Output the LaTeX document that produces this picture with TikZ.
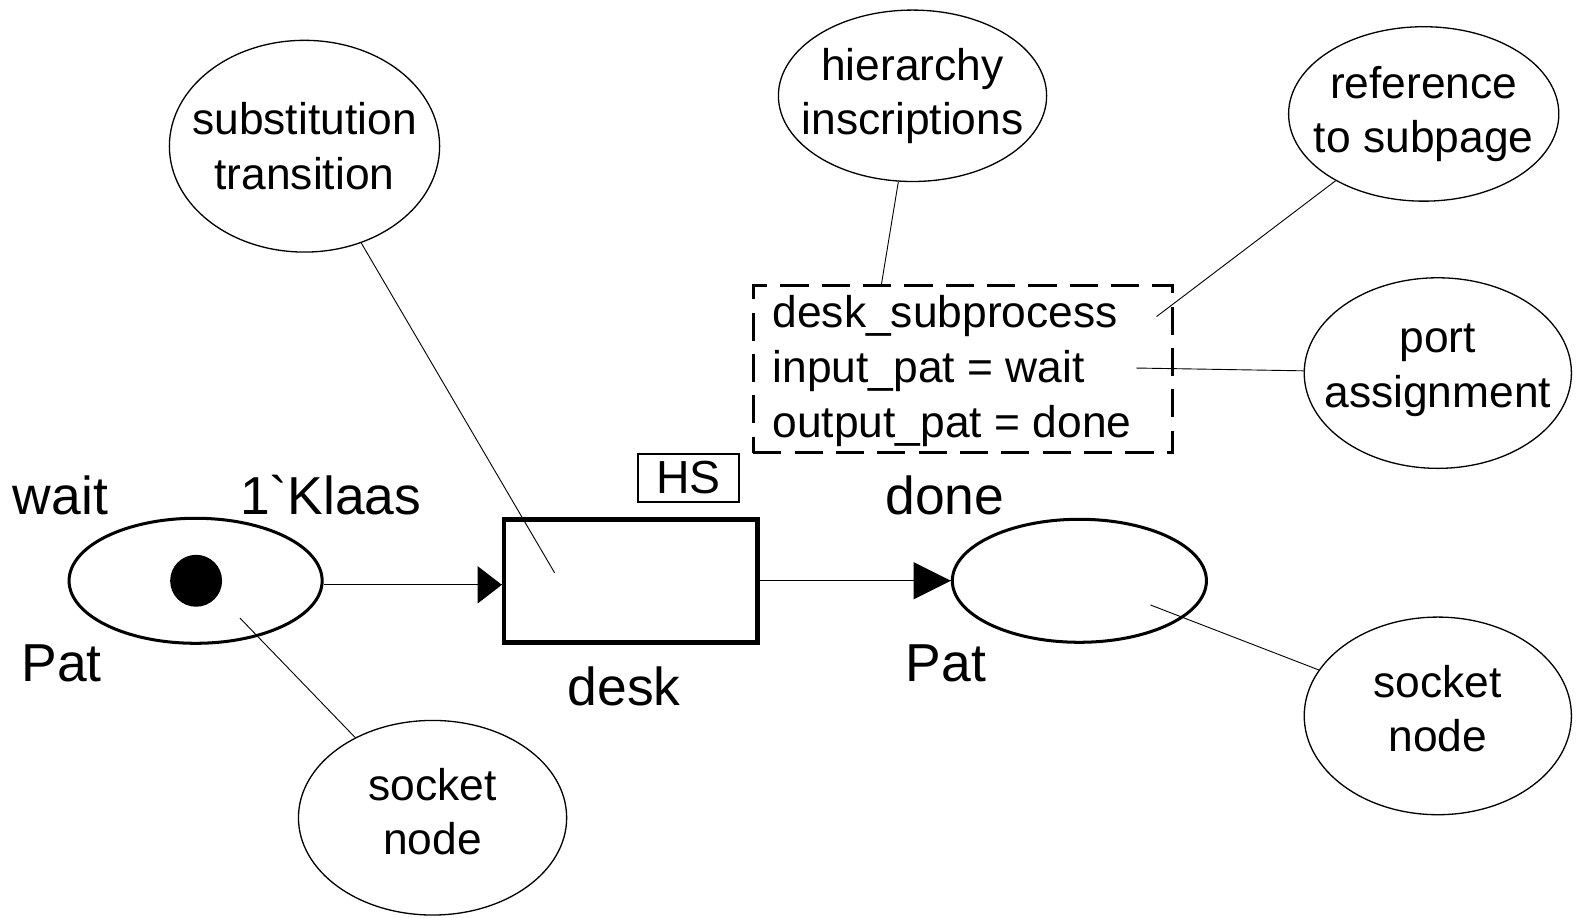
\documentclass[tikz,border=0pt]{standalone}
\usepackage{fontspec}
\setmainfont{Liberation Sans}
\usetikzlibrary{shapes.geometric}
\begin{document}
\begin{tikzpicture}[x=1pt,y=-1pt,
  place/.style={ellipse,draw,line width=3pt,inner sep=0pt,minimum width=251pt,minimum height=124pt},
  trans/.style={rectangle,draw,line width=4.5pt,inner sep=0pt,minimum width=251pt,minimum height=122pt},
  callout/.style={ellipse,draw,line width=1.3pt,inner sep=0pt},
  callouttext/.style={align=center,inner sep=0pt,font=\fontsize{44}{54}\selectfont},
  biglabel/.style={font=\fontsize{53}{60}\selectfont,inner sep=0pt,anchor=base},
  arcline/.style={line width=1.3pt},
  leader/.style={line width=0.9pt}
]
\useasboundingbox (0,0) rectangle (1568,910);

% places and the substitution transition
\node[place] (wait) at (194,576) {};
\node[circle,fill,inner sep=0pt,minimum size=51.5pt] (token) at (194.5,576) {};
\node[trans] (desk) at (625.5,576) {};
\node[place,minimum width=252pt,minimum height=122pt] (done) at (1070.5,576) {};

% arcs with filled triangular heads
\draw[arcline] ([yshift=-4pt]wait.east) -- ([yshift=-4pt]desk.west);
\fill ([yshift=-4pt]desk.west) -- ++(-24,-18.5) -- ++(0,37) -- cycle;
\draw[arcline] (desk) -- (done);
\fill (done.west) -- ++(-37,-18.5) -- ++(0,37) -- cycle;

% inscriptions of places and transition
\node[biglabel] (lwait) at (60,510) {wait};
\node[biglabel] (lpatl) at (61,676) {Pat};
\node[biglabel] (lmark) at (328,510) {1\textasciigrave Klaas};
\node[biglabel] (ldesk) at (619,700) {desk};
\node[biglabel] (ldone) at (937,510) {done};
\node[biglabel] (lpatr) at (938,676) {Pat};

% hierarchy tag
\node[draw,line width=2pt,inner sep=0pt,minimum width=100pt,minimum height=48pt,
  font=\fontsize{46}{50}\selectfont] (hs) at (683,474) {HS};

% hierarchy inscription box
\node[draw,line width=2.6pt,dash pattern=on 28pt off 13pt,inner sep=0pt,
  minimum width=416pt,minimum height=166pt] (hbox) at (955,366) {};
\node[anchor=west,align=left,inner sep=0pt,font=\fontsize{44}{54.5}\selectfont]
  (htext) at (766,368) {desk\_subprocess\\input\_pat = wait\\output\_pat = done};

% explanatory callouts
\node[callout,minimum width=268pt,minimum height=210pt] (csub) at (302,145) {};
\node[callouttext] (tsub) at (csub) {substitution\\transition};
\node[callout,minimum width=266pt,minimum height=170pt] (chier) at (905,95) {};
\node[callouttext] (thier) at (chier) {hierarchy\\inscriptions};
\node[callout,minimum width=268pt,minimum height=173pt] (cref) at (1412,113) {};
\node[callouttext] (tref) at (cref) {reference\\to subpage};
\node[callout,minimum width=265pt,minimum height=189pt] (cport) at (1426,370) {};
\node[callouttext] (tport) at (1426,367) {port\\assignment};
\node[callout,minimum width=266pt,minimum height=193pt] (csockl) at (429,811) {};
\node[callouttext] (tsockl) at (429,805) {socket\\node};
\node[callout,minimum width=265pt,minimum height=196pt] (csockr) at (1426,710) {};
\node[callouttext] (tsockr) at (1426,703) {socket\\node};

% ends of the leader lines
\coordinate (psub) at (550,568);
\coordinate (phier) at (874,283);
\coordinate (pref) at (1147,314);
\coordinate (pport) at (1127,365);
\coordinate (psockl) at (238,613);
\coordinate (psockr) at (1141,600);

\draw[leader] (csub) -- (psub);
\draw[leader] (chier) -- (phier);
\draw[leader] (cref) -- (pref);
\draw[leader] (cport) -- (pport);
\draw[leader] (csockl) -- (psockl);
\draw[leader] (csockr) -- (psockr);
\end{tikzpicture}
\end{document}
